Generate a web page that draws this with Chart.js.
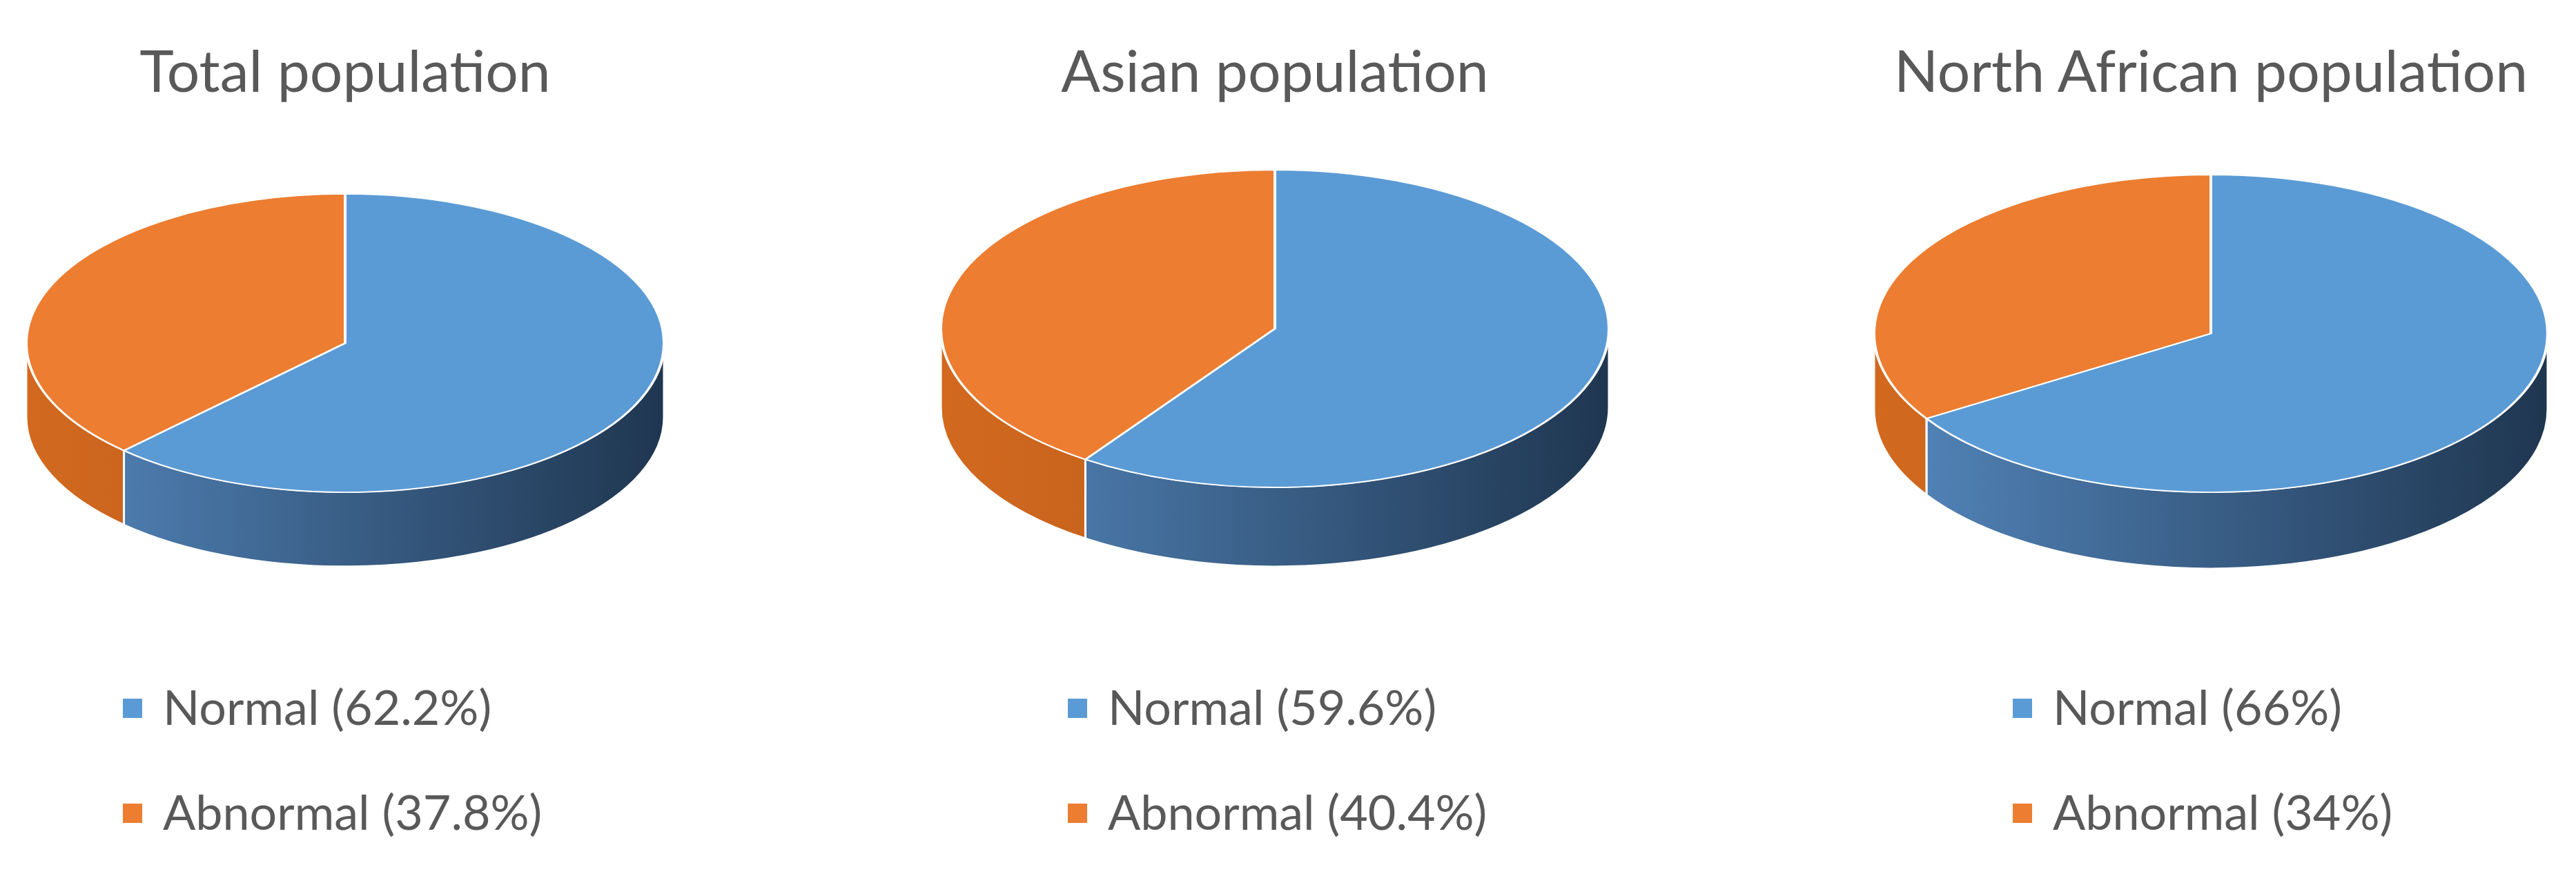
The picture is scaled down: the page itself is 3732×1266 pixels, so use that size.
<!DOCTYPE html>
<html><head><meta charset="utf-8">
<script src="https://cdn.jsdelivr.net/npm/chart.js@4/dist/chart.umd.min.js"></script>
<style>
body{margin:0;width:3732px;height:1266px;background:#fff;position:relative;overflow:hidden;font-family:Lato,"Open Sans",sans-serif;color:#595959}
canvas{position:absolute}
.t{position:absolute;font-size:84px;transform:translateX(-50%);white-space:nowrap;top:50px}
.lg{position:absolute;font-size:70px;white-space:nowrap;line-height:1}
.lg span{display:inline-block;width:28px;height:28px;margin-right:30px;vertical-align:middle;position:relative;top:-6px}
</style></head><body>
<script>
const titles=["Total population","Asian population","North African population"];
const categories=["Normal","Abnormal"];
const normalPct=[62.2,59.6,66];
const abnormalPct=[37.8,40.4,34];
const legendLabels=[["Normal (62.2%)","Abnormal (37.8%)"],["Normal (59.6%)","Abnormal (40.4%)"],["Normal (66%)","Abnormal (34%)"]];
const topColors=["#5b9bd5","#ed7d31"];
const geo=[{cx:500,cy:497,rx:464,ry:217,d:107,lx:178},{cx:1847,cy:476,rx:486,ry:231,d:114,lx:1547},{cx:3203,cy:483,rx:490,ry:231,d:110,lx:2916}];
const sideGrad=[["#5487bd","#1f3650"],["#d2691f","#a85117"]];
const pie3d={id:'pie3d',
 beforeDatasetsDraw(chart){
  const g=chart.options.plugins.pie3d;const ctx=chart.ctx;
  const arcs=chart.getDatasetMeta(0).data;
  const a0=arcs[0];const x=a0.x,y=a0.y,r=a0.outerRadius;
  const s=g.ry/g.rx;const dd=g.d/s;
  ctx.save();ctx.translate(x,y);ctx.scale(1,s);ctx.translate(-x,-y);
  arcs.forEach((a,i)=>{
    const segs=[];
    let st=Math.max(a.startAngle,0),en=Math.min(a.endAngle,Math.PI);
    if(en>st)segs.push([st,en]);
    let st2=Math.max(a.startAngle,2*Math.PI),en2=Math.min(a.endAngle,3*Math.PI);
    if(en2>st2)segs.push([st2,en2]);
    segs.forEach(([p,q])=>{
      const gr=ctx.createLinearGradient(x-r,0,x+r,0);
      gr.addColorStop(0,sideGrad[i][0]);gr.addColorStop(1,sideGrad[i][1]);
      ctx.beginPath();ctx.arc(x,y,r,p,q);ctx.arc(x,y+dd,r,q,p,true);ctx.closePath();
      ctx.fillStyle=gr;ctx.fill();ctx.strokeStyle='#fff';ctx.lineWidth=3;ctx.stroke();
    });
  });
  // keep transform for the top face; restored after datasets
 },
 afterDatasetsDraw(chart){chart.ctx.restore();}
};
geo.forEach((g,k)=>{
  const c=document.createElement('canvas');
  const W=2*g.rx+20;
  c.width=W;c.height=W;c.style.left=(g.cx-g.rx-10)+'px';c.style.top=(g.cy-g.rx-10)+'px';
  c.style.width=W+'px';c.style.height=W+'px';
  document.body.appendChild(c);
  new Chart(c,{type:'pie',data:{labels:categories,datasets:[{data:[normalPct[k],abnormalPct[k]],backgroundColor:topColors,borderColor:'#fff',borderWidth:4}]},
   options:{responsive:false,animation:false,layout:{padding:10},plugins:{legend:{display:false},tooltip:{enabled:false},pie3d:g}},
   plugins:[pie3d]});
  const t=document.createElement('div');t.className='t';t.textContent=titles[k];t.style.left=g.cx+'px';document.body.appendChild(t);
  [0,1].forEach(j=>{const l=document.createElement('div');l.className='lg';l.style.left=g.lx+'px';l.style.top=(j?1140:988)+'px';
    l.innerHTML='<span style="background:'+topColors[j]+'"></span>'+legendLabels[k][j];document.body.appendChild(l);});
});
</script>
</body></html>
